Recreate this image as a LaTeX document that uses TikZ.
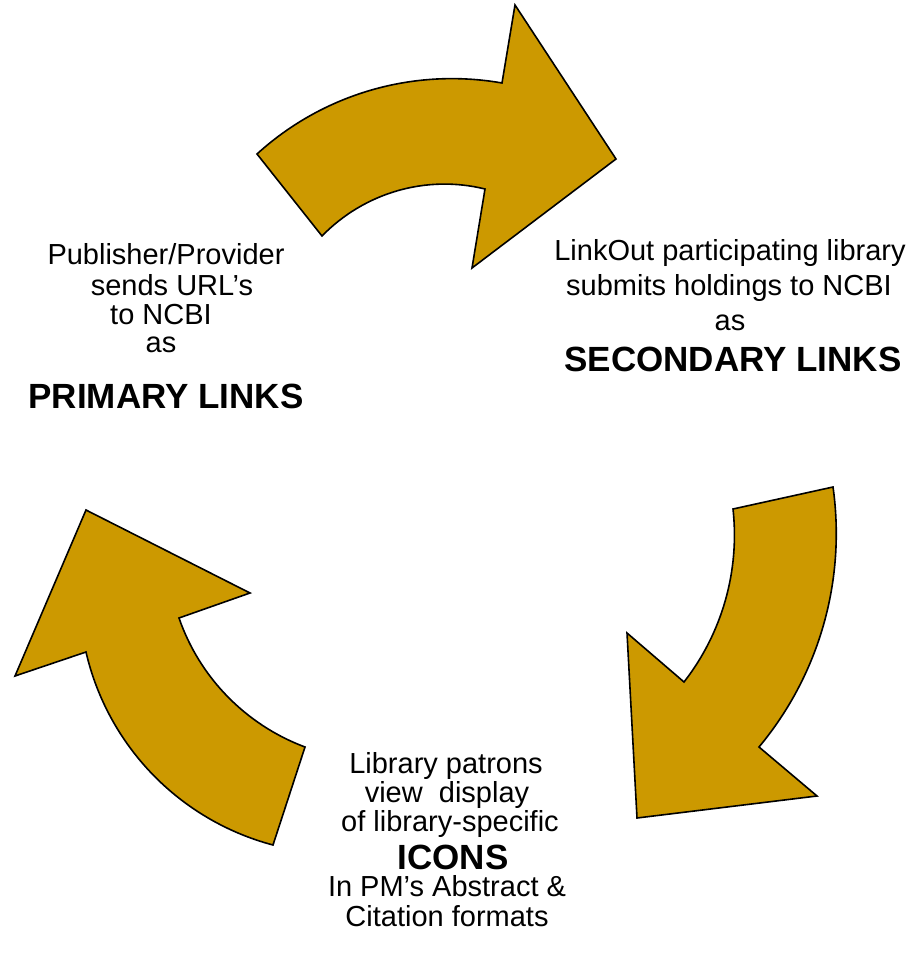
\documentclass[tikz,border=0pt]{standalone}
\usepackage{fontspec}
\setmainfont{Liberation Sans}
\definecolor{arrowgold}{HTML}{CC9900}
\begin{document}
\begin{tikzpicture}[x=1pt,y=-1pt,
  arrowshape/.style={fill=arrowgold, draw=black, line width=1.6pt, line join=miter},
  txt/.style={anchor=base, inner sep=0pt, font=\fontsize{29}{29}\selectfont},
  boldtxt/.style={anchor=base, inner sep=0pt, font=\fontsize{35}{35}\selectfont\bfseries}]
\useasboundingbox (0,0) rectangle (911,957);

% top arrow (left -> right)
\filldraw[arrowshape]
  (257,154) .. controls (323.2,93.7) and (413.7,67.5) .. (502,83)
  -- (515,5) -- (616,159) -- (472,268) -- (485,189)
  .. controls (426.2,174.5) and (364.3,192.6) .. (322,236)
  -- cycle;

% right arrow (top -> bottom)
\filldraw[arrowshape]
  (833,487) .. controls (846.1,580.3) and (819.3,674.6) .. (759,747)
  -- (817,796) -- (637,818) -- (627,633) -- (684,682)
  .. controls (722.2,632.9) and (739.8,570.8) .. (733,509)
  -- cycle;

% left arrow (bottom -> top)
\filldraw[arrowshape]
  (273,845) .. controls (179.7,820.2) and (107.8,746.0) .. (86,652)
  -- (15,676) -- (86,510) -- (250,593) -- (179,618)
  .. controls (199.6,677.6) and (245.9,724.9) .. (305,747)
  -- cycle;

% left text block
\node[txt] (l1) at (166,265) {Publisher/Provider};
\node[txt] (l2) at (172,295) {sends URL’s};
\node[txt] (l3) at (161,324) {to NCBI};
\node[txt] (l4) at (161,352) {as};
\node[boldtxt] (l5) at (166,408) {PRIMARY LINKS};

% right text block
\node[txt] (r1) at (730,261) {LinkOut participating library};
\node[txt] (r2) at (729,295) {submits holdings to NCBI};
\node[txt] (r3) at (730,330) {as};
\node[boldtxt] (r4) at (733,371) {SECONDARY LINKS};

% bottom text block
\node[txt] (b1) at (446,773) {Library patrons};
\node[txt] (b2) at (447,802) {view\ \ display};
\node[txt] (b3) at (450,831) {of library-specific};
\node[boldtxt] (b4) at (453,869) {ICONS};
\node[txt] (b5) at (447,896) {In PM’s Abstract \&};
\node[txt] (b6) at (447,926) {Citation formats};
\end{tikzpicture}
\end{document}
